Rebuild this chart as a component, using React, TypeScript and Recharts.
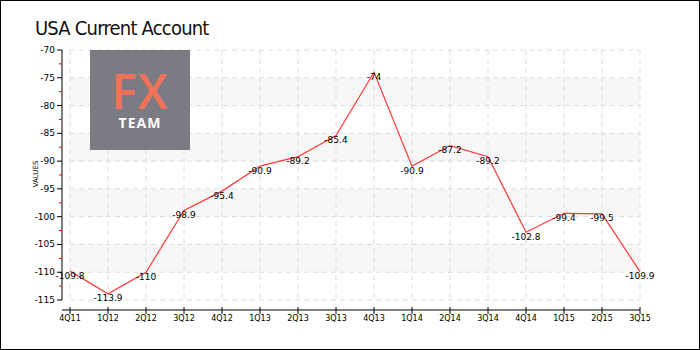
import { LineChart, Line, XAxis, YAxis, ReferenceArea, ReferenceLine, LabelList } from 'recharts'

const quarters = ['4Q11', '1Q12', '2Q12', '3Q12', '4Q12', '1Q13', '2Q13', '3Q13', '4Q13', '1Q14', '2Q14', '3Q14', '4Q14', '1Q15', '2Q15', '3Q15']
const values = [-109.8, -113.9, -110, -98.9, -95.4, -90.9, -89.2, -85.4, -74, -90.9, -87.2, -89.2, -102.8, -99.4, -99.5, -109.9]
const majorTicks = [-115, -110, -105, -100, -95, -90, -85, -80, -75, -70]
const allTicks = [-115, -112.5, -110, -107.5, -105, -102.5, -100, -97.5, -95, -92.5, -90, -87.5, -85, -82.5, -80, -77.5, -75, -72.5, -70]
const bands = [[-80, -75], [-90, -85], [-100, -95], [-110, -105]]

const data = quarters.map((q, i) => ({ q, v: values[i] }))

const FONT = "'DejaVu Sans', sans-serif"
// 260px plot height over 46.8 units
const STEP_PX = (260 / 46.8) * 2.5

const YTick = (props: any) => {
  const { x, y, payload } = props
  const v = payload.value
  const major = majorTicks.includes(v)
  return (
    <g>
      {v !== -70 && <line x1={x} x2={x} y1={y} y2={y - STEP_PX} stroke="#000" strokeWidth={1} />}
      <line x1={x - (major ? 5 : 3)} x2={x} y1={y} y2={y} stroke={major ? '#000' : '#e00'} strokeWidth={1} />
      {major && (
        <text x={x - 7} y={y + 3} textAnchor="end" fontSize={9} fontFamily={FONT} fill="#000">
          {v}
        </text>
      )}
    </g>
  )
}

const XTick = (props: any) => {
  const { x, y, payload } = props
  return (
    <g>
      <line x1={x} x2={x} y1={y - 3} y2={y + 4} stroke="#000" strokeWidth={1} />
      <text x={x} y={y + 11} textAnchor="middle" fontSize={8} fontFamily={FONT} fill="#000">
        {payload.value}
      </text>
    </g>
  )
}

const PointLabel = (props: any) => {
  const { x, y, value } = props
  return (
    <text x={x} y={y + 7.5} textAnchor="middle" fontSize={9} fontFamily={FONT} fill="#000">
      {value}
    </text>
  )
}

export default function App() {
  return (
    <div style={{ position: 'relative', width: 700, height: 350, background: '#fff' }}>
      <style>{'body{margin:0}'}</style>
      <LineChart width={700} height={350} data={data} margin={{ top: 50, right: 60, left: 0, bottom: 20 }}>
        {bands.map(([a, b]) => (
          <ReferenceArea key={a} x1="4Q11" x2="3Q15" y1={a} y2={b} fill="#f7f7f7" fillOpacity={1} stroke="none" ifOverflow="visible" />
        ))}
        {majorTicks.map((t) => (
          <ReferenceLine
            key={'h' + t}
            segment={[{ x: '4Q11', y: t }, { x: '3Q15', y: t }]}
            stroke="#dcdcdc"
            strokeDasharray="5 4"
            ifOverflow="visible"
          />
        ))}
        {quarters.map((q) => (
          <ReferenceLine
            key={'v' + q}
            segment={[{ x: q, y: -70 }, { x: q, y: -115 }]}
            stroke="#dcdcdc"
            strokeDasharray="5 4"
            ifOverflow="visible"
          />
        ))}
        <XAxis
          dataKey="q"
          scale="point"
          padding={{ left: 8, right: 0 }}
          height={20}
          tickSize={0}
          tickMargin={0}
          tickLine={false}
          axisLine={{ stroke: '#000' }}
          tick={<XTick />}
          interval={0}
        />
        <YAxis
          width={62}
          domain={[-116.8, -70]}
          ticks={allTicks}
          interval={0}
          tickSize={0}
          tickMargin={0}
          tickLine={false}
          axisLine={false}
          tick={<YTick />}
          allowDataOverflow
        />
        <Line dataKey="v" stroke="#ff3838" strokeWidth={1.2} dot={false} isAnimationActive={false}>
          <LabelList dataKey="v" content={<PointLabel />} />
        </Line>
      </LineChart>
      <div
        style={{
          position: 'absolute',
          left: 35,
          top: 16,
          fontFamily: "'DejaVu Sans Condensed', 'DejaVu Sans', sans-serif",
          fontSize: 20,
          letterSpacing: -0.8,
          lineHeight: 'normal',
          color: '#111',
          whiteSpace: 'nowrap',
        }}
      >
        USA Current Account
      </div>
      <div
        style={{
          position: 'absolute',
          left: 36,
          top: 174,
          transform: 'translate(-50%, -50%) rotate(-90deg)',
          fontFamily: FONT,
          fontSize: 7,
          color: '#000',
        }}
      >
        VALUES
      </div>
      <div
        style={{
          position: 'absolute',
          left: 90,
          top: 50,
          width: 100,
          height: 100,
          background: '#7b7b83',
          fontFamily: "'Open Sans', sans-serif",
        }}
      >
        <div
          style={{
            position: 'absolute',
            left: 0,
            right: 0,
            top: 19,
            textAlign: 'center',
            color: '#f07358',
            fontSize: 48,
            fontWeight: 600,
            lineHeight: '44px',
            letterSpacing: 1,
          }}
        >
          FX
        </div>
        <div
          style={{
            position: 'absolute',
            left: 0,
            right: 0,
            top: 66,
            textAlign: 'center',
            color: '#fff',
            fontSize: 14,
            fontWeight: 700,
            lineHeight: '14px',
            letterSpacing: 1,
          }}
        >
          TEAM
        </div>
      </div>
      <div style={{ position: 'absolute', inset: 0, border: '1px solid #000', pointerEvents: 'none' }} />
    </div>
  )
}
